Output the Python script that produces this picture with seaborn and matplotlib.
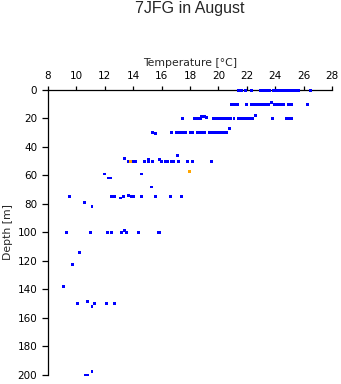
import matplotlib
matplotlib.use("Agg")
import matplotlib.pyplot as plt
import seaborn as sns
import pandas as pd

# ---- data ----
temp_blue = [
    # ~0 m
    21.4, 21.6, 21.9, 22.3, 22.95, 23.15, 23.4, 23.6, 23.85, 24.05, 24.25, 24.45,
    24.65, 24.85, 25.05, 25.25, 25.45, 25.65, 26.5,
    # ~10 m
    20.95, 21.15, 21.35, 22.0, 22.35, 22.55, 22.75, 22.95, 23.15, 23.35, 23.55,
    23.75, 23.95, 24.15, 24.35, 24.6, 24.95, 25.15, 26.3,
    # ~20 m
    17.5, 18.3, 18.5, 18.65, 18.75, 18.8, 19.0, 19.15, 19.65, 19.85, 20.05, 20.25,
    20.45, 20.65, 20.85, 21.1, 21.4, 21.6, 21.85, 22.05, 22.25, 22.4, 22.6, 23.8,
    24.8, 25.0, 25.15,
    # ~30 m
    15.35, 15.55, 16.7, 17.05, 17.2, 17.35, 17.5, 17.65, 18.0, 18.15, 18.5, 18.65,
    18.85, 19.05, 19.35, 19.5, 19.75, 19.95, 20.15, 20.35, 20.55, 20.75,
    # ~50 m
    13.4, 13.65, 14.0, 14.15, 14.8, 15.1, 15.1, 15.35, 15.85, 16.0, 16.25, 16.45,
    16.7, 16.85, 17.15, 17.2, 17.85, 18.15, 19.5,
    # ~60-68 m
    12.0, 14.6, 12.25, 12.4, 15.3,
    # ~75-82 m
    9.5, 12.5, 12.65, 13.1, 13.3, 13.7, 13.85, 14.0, 14.6, 15.6, 16.6, 17.4,
    10.6, 11.1,
    # ~100 m
    9.3, 11.0, 12.2, 12.5, 13.2, 13.4, 13.5, 14.4, 15.75, 15.85,
    # deeper
    10.2, 9.7, 9.1,
    10.1, 10.8, 11.1, 11.3, 12.1, 12.7,
    10.65, 10.8, 11.1,
]
depth_blue = [
    0.5, 0.5, 0.5, 0.5, 0.5, 0.5, 0.5, 0.5, 0.5, 0.5, 0.5, 0.5,
    0.5, 0.5, 0.5, 0.5, 0.5, 0.5, 0.5,
    10.6, 10.6, 10.6, 10.6, 10.6, 10.6, 10.6, 10.6, 10.6, 10.6, 10.6,
    9.3, 10.6, 10.6, 10.6, 10.6, 10.6, 10.6, 10.6,
    20.6, 20.6, 20.6, 20.6, 20.6, 19.2, 19.2, 19.5, 20.6, 20.6, 20.6, 20.6,
    20.6, 20.6, 20.6, 20.6, 20.6, 20.6, 20.6, 20.6, 20.6, 20.6, 18.3, 20.6,
    20.6, 20.6, 20.6,
    30.4, 30.8, 30.4, 30.4, 30.4, 30.4, 30.4, 30.4, 30.4, 30.4, 29.8, 30.4,
    30.4, 30.4, 30.4, 30.4, 30.4, 30.4, 30.4, 30.4, 30.4, 27.6,
    48.5, 50.4, 50.4, 50.4, 50.4, 49.0, 50.4, 50.4, 48.8, 50.4, 50.4, 50.4,
    50.4, 50.4, 46.5, 50.4, 50.4, 50.4, 50.4,
    59.2, 59.2, 62.0, 62.0, 68.3,
    75.2, 75.2, 74.8, 76.0, 75.2, 74.0, 75.2, 75.2, 75.2, 75.2, 75.2, 75.2,
    79.4, 82.2,
    100.3, 100.3, 100.3, 100.3, 100.3, 99.0, 100.3, 100.3, 100.3, 100.3,
    114.1, 122.7, 138.0,
    150.0, 148.6, 151.8, 150.0, 150.0, 150.0,
    200.0, 200.0, 197.5,
]
temp_orange = [13.8, 17.95]
depth_orange = [50.4, 57.4]

title = "7JFG in August"
x_label = "Temperature [°C]"
y_label = "Depth [m]"
x_ticks = [8, 10, 12, 14, 16, 18, 20, 22, 24, 26, 28]
y_ticks = [0, 20, 40, 60, 80, 100, 120, 140, 160, 180, 200]

df = pd.DataFrame({
    "temp": temp_blue + temp_orange,
    "depth": depth_blue + depth_orange,
    "group": ["a"] * len(temp_blue) + ["b"] * len(temp_orange),
})

sns.set_style("ticks")
plt.rcParams["font.family"] = ["DejaVu Sans"]

fig = plt.figure(figsize=(3.41, 3.84), dpi=100)
ax = fig.add_axes([48 / 341, 1 - 375 / 384, (332 - 48) / 341, (375 - 89.5) / 384])

sns.scatterplot(data=df, x="temp", y="depth", hue="group",
                palette={"a": "#0000ff", "b": "#ffa500"},
                marker="s", s=4.5, linewidth=0, legend=False, ax=ax, zorder=3,
                clip_on=False)

ax.set_xlim(8, 28)
ax.set_ylim(200, 0)
ax.set_xticks(x_ticks)
ax.set_yticks(y_ticks)
ax.xaxis.tick_top()
ax.xaxis.set_label_position("top")
for s in ["right", "bottom"]:
    ax.spines[s].set_visible(False)
for s in ["left", "top"]:
    ax.spines[s].set_linewidth(0.9)
    ax.spines[s].set_color("black")
ax.tick_params(axis="x", direction="out", length=3, width=0.9, pad=3,
               labelsize=7.5, colors="black")
ax.tick_params(axis="y", direction="out", length=4.3, width=0.9, pad=3.5,
               labelsize=7.5, colors="black")
ax.set_xlabel(x_label, fontsize=7.8, labelpad=4)
ax.set_ylabel(y_label, fontsize=7.8, labelpad=3)
ax.grid(False)

fig.text(190 / 341, 1 - 9 / 384, title, ha="center", va="center",
         fontsize=11.5, family=["Liberation Sans", "DejaVu Sans"])

fig.savefig("out.png", dpi=100)
